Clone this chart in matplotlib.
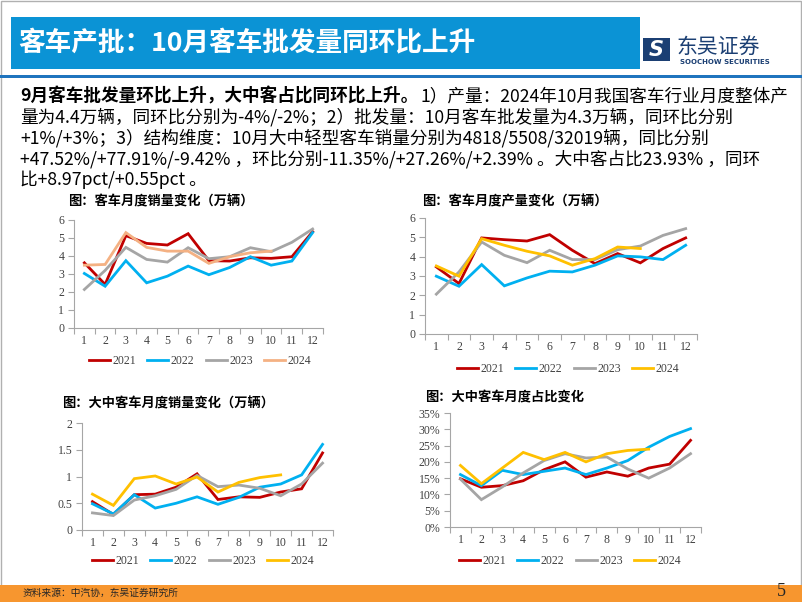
import matplotlib
matplotlib.use("Agg")
import matplotlib.pyplot as plt
from matplotlib.patches import Rectangle
from matplotlib.ticker import FuncFormatter, FixedLocator

plt.rcParams['font.family'] = ['Noto Sans CJK SC', 'DejaVu Sans']

W, H = 802, 602
months = list(range(1, 13))
month_labels = [str(m) for m in months]
years = ['2021', '2022', '2023', '2024']

# 客车月度销量 (万辆)
sales_2021 = [3.62, 2.42, 5.13, 4.70, 4.61, 5.24, 3.74, 3.72, 3.90, 3.87, 3.96, 5.35]
sales_2022 = [3.03, 2.32, 3.74, 2.51, 2.88, 3.44, 2.96, 3.36, 3.96, 3.49, 3.72, 5.30]
sales_2023 = [2.14, 3.20, 4.48, 3.81, 3.66, 4.46, 3.85, 3.96, 4.46, 4.24, 4.76, 5.50]
sales_2024 = [3.49, 3.53, 5.30, 4.48, 4.27, 4.27, 3.59, 3.96, 4.18, 4.27]

# 客车月度产量 (万辆)
prod_2021 = [3.47, 2.61, 4.97, 4.88, 4.81, 5.14, 4.33, 3.64, 4.16, 3.68, 4.42, 4.97]
prod_2022 = [2.99, 2.47, 3.59, 2.49, 2.90, 3.25, 3.21, 3.56, 4.04, 3.99, 3.85, 4.59]
prod_2023 = [2.06, 3.21, 4.76, 4.07, 3.69, 4.33, 3.85, 3.85, 4.36, 4.55, 5.10, 5.45]
prod_2024 = [3.52, 2.99, 4.93, 4.59, 4.28, 4.04, 3.56, 3.90, 4.50, 4.42]

# 大中客车月度销量 (万辆)
big_2021 = [0.53, 0.29, 0.66, 0.67, 0.80, 1.05, 0.57, 0.62, 0.61, 0.71, 0.77, 1.44]
big_2022 = [0.49, 0.30, 0.66, 0.41, 0.50, 0.62, 0.48, 0.61, 0.80, 0.86, 1.03, 1.60]
big_2023 = [0.32, 0.27, 0.56, 0.64, 0.76, 1.02, 0.81, 0.84, 0.78, 0.64, 0.86, 1.25]
big_2024 = [0.67, 0.46, 0.96, 1.01, 0.86, 0.99, 0.71, 0.89, 0.98, 1.03]

# 大中客车月度占比 (%)
share_2021 = [14.8, 12.2, 12.7, 14.2, 17.6, 20.0, 15.3, 16.9, 15.6, 18.1, 19.3, 26.6]
share_2022 = [16.1, 12.7, 17.4, 16.1, 17.1, 18.1, 16.1, 18.1, 20.4, 24.5, 27.8, 30.2]
share_2023 = [14.7, 8.4, 12.3, 16.6, 20.4, 22.5, 21.2, 21.5, 17.8, 15.0, 18.1, 22.5]
share_2024 = [18.9, 13.3, 18.1, 22.9, 20.7, 22.9, 20.0, 22.5, 23.5, 23.9]

C21 = '#C00000'
C22 = '#00B0F0'
C23 = '#A5A5A5'
C24_peach = '#F4B183'
C24 = '#FFC000'

fig = plt.figure(figsize=(W / 100, H / 100), dpi=100)


def fx(x):
    return x / W


def fy(y):
    return 1 - y / H


# slide border
fig.patches.append(Rectangle((0.001, 0.001), 0.998, 0.997, transform=fig.transFigure,
                             fill=False, edgecolor='#B0B0B0', lw=1.0))

# title bar
fig.patches.append(Rectangle((fx(11), fy(69)), fx(629), 52 / H, transform=fig.transFigure,
                             facecolor='#0B93D5', edgecolor='none'))
fig.text(fx(18), fy(44), '客车产批：10月客车批发量同环比上升', color='white',
         fontsize=19.2, fontweight='bold', va='center', ha='left')
fig.patches.append(Rectangle((0, fy(78)), 1, 3.5 / H, transform=fig.transFigure,
                             facecolor='#1F74BE', edgecolor='none'))

# logo
fig.patches.append(Rectangle((fx(643), fy(61)), fx(27), 23 / H, transform=fig.transFigure,
                             facecolor='#1B3F73', edgecolor='none'))
fig.text(fx(656.5), fy(49.5), 'S', color='white', fontsize=15, fontweight='bold',
         va='center', ha='center', family=['DejaVu Sans'], style='italic')
fig.text(fx(677), fy(47), '东吴证券', color='#1B3F73', fontsize=15, va='center', ha='left')
fig.text(fx(680), fy(62), 'SOOCHOW SECURITIES', color='#1B3F73', fontsize=5,
         fontweight='bold', va='center', ha='left', family=['DejaVu Sans'])

# body text
fs_body = 12.7
t_bold = fig.text(fx(20), fy(96), '9月客车批发量环比上升，大中客占比同环比上升。', fontsize=fs_body,
                  fontweight='bold', va='center', ha='left', color='black')
fig.canvas.draw()
bb = t_bold.get_window_extent()
fig.text(bb.x1 / W + fx(2), fy(96), '1）产量：2024年10月我国客车行业月度整体产', fontsize=fs_body,
         va='center', ha='left', color='black')
body_lines = [
    '量为4.4万辆，同环比分别为-4%/-2%；2）批发量：10月客车批发量为4.3万辆，同环比分别',
    '+1%/+3%；3）结构维度：10月大中轻型客车销量分别为4818/5508/32019辆，同比分别',
    '+47.52%/+77.91%/-9.42% ，环比分别-11.35%/+27.26%/+2.39% 。大中客占比23.93% ，同环',
    '比+8.97pct/+0.55pct 。',
]
for i, line in enumerate(body_lines):
    fig.text(fx(20), fy(117 + 21 * i), line, fontsize=fs_body, va='center', ha='left', color='black')

# footer
fig.patches.append(Rectangle((0, 0), 1, 17 / H, transform=fig.transFigure,
                             facecolor='#F7962F', edgecolor='none'))
fig.text(fx(23), fy(593), '资料来源：中汽协，东吴证券研究所', fontsize=7, va='center', ha='left',
         color='#262626')
fig.text(fx(786), fy(592), '5', fontsize=13, va='center', ha='right', color='#262626',
         family=['Liberation Serif'])

SERIF = ['Liberation Serif']


def make_chart(box, title, title_xy, series, colors, ylim, yticks, yfmt, legend_xy):
    left, top, right, bottom = box
    ax = fig.add_axes([fx(left), fy(bottom), fx(right - left), (bottom - top) / H])
    for vals, col, lab in zip(series, colors, years):
        ax.plot(range(1, len(vals) + 1), vals, color=col, lw=2.0, label=lab,
                solid_joinstyle='miter')
    ax.set_xlim(0.5, 12.5)
    ax.set_ylim(*ylim)
    ax.set_yticks(yticks)
    ax.yaxis.set_major_formatter(FuncFormatter(yfmt))
    ax.set_xticks(months)
    ax.set_xticklabels(month_labels)
    ax.xaxis.set_minor_locator(FixedLocator([m + 0.5 for m in range(0, 13)]))
    ax.tick_params(axis='x', which='major', length=0, pad=5, labelsize=8.5, colors='#404040')
    ax.tick_params(axis='x', which='minor', length=4, color='#A6A6A6', width=0.8)
    ax.tick_params(axis='y', which='major', length=4, color='#A6A6A6', width=0.8,
                   labelsize=8.5, labelcolor='#404040', pad=3)
    for lab in ax.get_xticklabels() + ax.get_yticklabels():
        lab.set_family(SERIF)
    for s in ['top', 'right']:
        ax.spines[s].set_visible(False)
    for s in ['left', 'bottom']:
        ax.spines[s].set_color('#A6A6A6')
        ax.spines[s].set_linewidth(0.8)
    ax.patch.set_alpha(0)
    fig.text(fx(title_xy[0]), fy(title_xy[1]), title, fontsize=9.5, fontweight='bold',
             va='center', ha='left', color='black')
    leg = fig.legend(*ax.get_legend_handles_labels(), loc='center',
                     bbox_to_anchor=(fx(legend_xy[0]), fy(legend_xy[1])),
                     bbox_transform=fig.transFigure, ncol=4, frameon=False,
                     handlelength=1.8, handletextpad=0.2, columnspacing=0.95,
                     prop={'family': SERIF, 'size': 8.5})
    for t in leg.get_texts():
        t.set_color('#404040')
    return ax


make_chart((74, 220, 323, 328), '图：客车月度销量变化（万辆）', (68, 201),
           [sales_2021, sales_2022, sales_2023, sales_2024], [C21, C22, C23, C24_peach],
           (0, 6), range(0, 7), lambda v, p: f'{v:g}', (200, 361))

make_chart((425, 218, 697, 334), '图：客车月度产量变化（万辆）', (422, 201),
           [prod_2021, prod_2022, prod_2023, prod_2024], [C21, C22, C23, C24],
           (0, 6), range(0, 7), lambda v, p: f'{v:g}', (568, 369))

make_chart((82, 423, 333, 530), '图：大中客车月度销量变化（万辆）', (62, 403),
           [big_2021, big_2022, big_2023, big_2024], [C21, C22, C23, C24],
           (0, 2), [0, 0.5, 1, 1.5, 2], lambda v, p: f'{v:g}', (203, 561))

make_chart((450, 413, 701, 527), '图：大中客车月度占比变化', (425, 397),
           [share_2021, share_2022, share_2023, share_2024], [C21, C22, C23, C24],
           (0, 35), range(0, 36, 5), lambda v, p: f'{v:.0f}%', (570, 561))

fig.savefig('out.png', dpi=100)
